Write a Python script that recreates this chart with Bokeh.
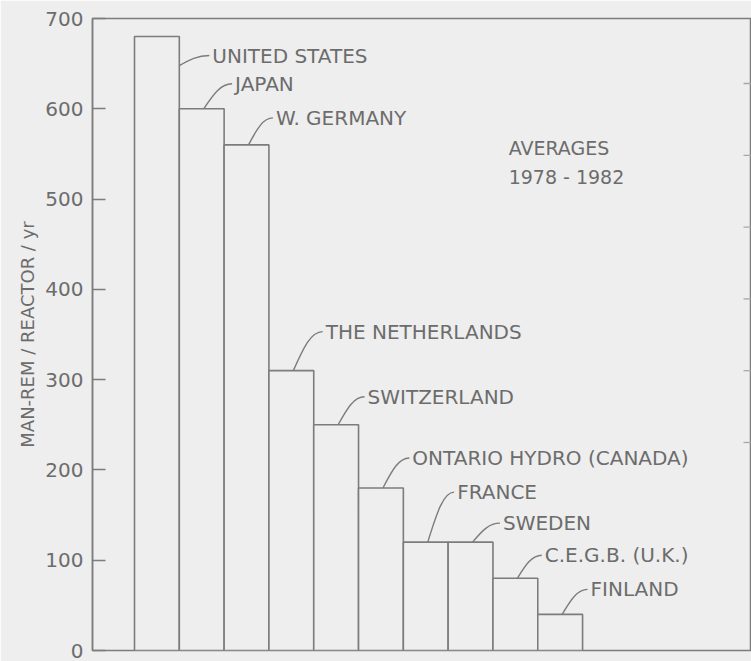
from bokeh.plotting import figure
from bokeh.models import Range1d, FixedTicker, ColumnDataSource
from bokeh.core.properties import value
from bokeh.embed import file_html
from bokeh.resources import INLINE

# ---- data ----
countries = ["UNITED STATES", "JAPAN", "W. GERMANY", "THE NETHERLANDS", "SWITZERLAND",
             "ONTARIO HYDRO (CANADA)", "FRANCE", "SWEDEN", "C.E.G.B. (U.K.)", "FINLAND"]
man_rem = [680, 600, 560, 310, 250, 180, 120, 120, 80, 40]
y_ticks = [0, 100, 200, 300, 400, 500, 600, 700]
right_ticks = [200, 300, 400, 500, 600, 700]
note_lines = ["AVERAGES", "1978 - 1982"]
y_title = "MAN-REM / REACTOR / yr"

# ---- layout of annotation leaders (screen pixels) ----
label_dx_px = [33, 11, 7, 12, 9, 9, 9, 10, 7, 8]      # label start right of bar edge
label_rise_px = [10, 25, 27, 39, 28, 30, 50, 19, 23, 25]  # label centre above leader start

BG = "#eeeeee"
LINE = "#7c7c7c"
TEXT = "#6c6c6c"
FONT = "DejaVu Sans"

X0, X1 = -1.4375, 13.27
Y0, Y1 = 0, 700
W, H = 751, 661
L, R, T, B = 92, 0, 18, 11
px_x = (W - L - R) / (X1 - X0)
px_y = (H - T - B) / (Y1 - Y0)

p = figure(width=W, height=H, output_backend="svg", toolbar_location=None,
           x_range=Range1d(X0, X1), y_range=Range1d(Y0, Y1),
           min_border_left=L, min_border_right=R, min_border_top=T, min_border_bottom=B,
           background_fill_color=BG, border_fill_color=BG)
p.xaxis.visible = False
p.grid.visible = False
p.outline_line_color = LINE
p.outline_line_width = 1.5

idx = list(range(len(countries)))
src = ColumnDataSource(dict(x=idx, top=man_rem, name=countries))
p.vbar(x="x", top="top", bottom=0, width=1.0, source=src,
       fill_color=BG, line_color=LINE, line_width=1.6)

# leaders and labels
sx, sy, ex, ey, lx = [], [], [], [], []
for i, v in enumerate(man_rem):
    if i == 0:
        x0 = i + 0.5
        y0 = v - 29 / px_y
    else:
        x0 = i + 2 / px_x
        y0 = v
    xl = i + 0.5 + label_dx_px[i] / px_x
    yl = y0 + label_rise_px[i] / px_y
    sx.append(x0); sy.append(y0); ex.append(xl - 3 / px_x); ey.append(yl); lx.append(xl)

cx0 = [a + 0.35 * (b - a) for a, b in zip(sx, ex)]
cy0 = [a + 0.6 * (b - a) for a, b in zip(sy, ey)]
cx1 = [a + 0.6 * (b - a) for a, b in zip(sx, ex)]
cy1 = list(ey)
p.bezier(x0=sx, y0=sy, x1=ex, y1=ey, cx0=cx0, cy0=cy0, cx1=cx1, cy1=cy1,
         line_color=LINE, line_width=1.4)
p.text(x=lx, y=ey, text=countries, text_font=value(FONT), text_font_size="20px",
       text_color=TEXT, text_align="left", text_baseline="middle")

# note
note_x = [7.85, 7.85]
note_y = [557, 524]
p.text(x=note_x, y=note_y, text=note_lines, text_font=value(FONT), text_font_size="19px",
       text_color=TEXT, text_align="left", text_baseline="middle")

# left axis
ax = p.yaxis[0]
ax.ticker = FixedTicker(ticks=y_ticks)
ax.minor_tick_line_color = None
ax.major_tick_in = 13
ax.major_tick_out = 0
ax.major_tick_line_color = LINE
ax.major_tick_line_width = 1.3
ax.axis_line_color = LINE
ax.axis_line_width = 1.5
ax.major_label_standoff = 9
ax.major_label_text_font = FONT
ax.major_label_text_font_size = "20px"
ax.major_label_text_color = TEXT
ax.axis_label = y_title
ax.axis_label_text_font = FONT
ax.axis_label_text_font_size = "18px"
ax.axis_label_text_font_style = "normal"
ax.axis_label_text_color = TEXT
ax.axis_label_standoff = 4

# faint ticks along the right edge (a second scale of the scanned page)
p.extra_y_ranges = {"r": Range1d(-89.7, 790.5)}
p.segment(x0=[X1 - 8 / px_x] * len(right_ticks), x1=[X1] * len(right_ticks),
          y0=right_ticks, y1=right_ticks, y_range_name="r",
          line_color="#a8a8a8", line_width=1.3)

open("out.html", "w").write(file_html(p, INLINE))
